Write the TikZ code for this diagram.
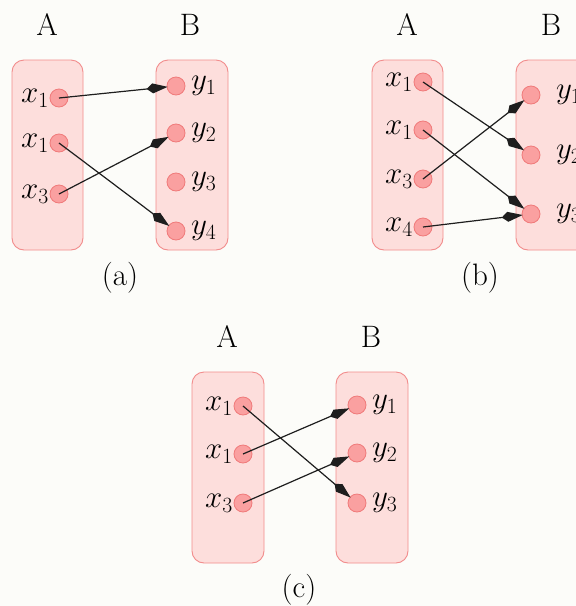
\RequirePackage{fix-cm}
\documentclass[tikz,border=0pt]{standalone}
\usetikzlibrary{arrows.meta}
\definecolor{pagebg}{RGB}{252,252,249}
\definecolor{setfill}{RGB}{253,222,220}
\definecolor{setline}{RGB}{242,140,140}
\definecolor{dotfill}{RGB}{250,160,160}
\definecolor{dotline}{RGB}{240,122,122}
\definecolor{ink}{RGB}{30,30,30}
\tikzset{
  setbox/.style={draw=setline, fill=setfill, line width=0.9pt, rounded corners=12pt},
  elem/.style={circle, draw=dotline, fill=dotfill, line width=0.8pt, minimum size=18pt, inner sep=0pt},
  lab/.style={inner sep=0.5pt},
  ylab/.style={inner sep=0.5pt, right, xshift=5pt},
  setname/.style={inner sep=0pt},
  caption/.style={inner sep=0pt},
  mapto/.style={draw=ink, line width=1.2pt, -{Kite[length=21pt,width=10pt,inset=6pt]}, shorten >=-1pt}
}
\begin{document}
\begin{tikzpicture}[x=1pt,y=-1pt, font=\fontsize{31}{36}\selectfont]
\fill[pagebg] (0,0) rectangle (576,606);
\useasboundingbox (0,0) rectangle (576,606);
\clip (0,0) rectangle (576,606);

% ---------- (a) ----------
\draw[setbox] (12,60) rectangle (83,250);
\draw[setbox] (156,60) rectangle (228,250);
\node[setname] (aA) at (47,25) {A};
\node[setname] (aB) at (190,25) {B};
\node[elem] (ax1) at (59,98) {};
\node[elem] (ax2) at (59,143) {};
\node[elem] (ax3) at (59,194) {};
\node[lab, left] at (ax1.west) {$x_1$};
\node[lab, left] at (ax2.west) {$x_1$};
\node[lab, left] at (ax3.west) {$x_3$};
\node[elem] (ay1) at (176,86) {};
\node[elem] (ay2) at (176,133) {};
\node[elem] (ay3) at (176,182) {};
\node[elem] (ay4) at (176,231) {};
\node[ylab] at (ay1.east) {$y_1$};
\node[ylab] at (ay2.east) {$y_2$};
\node[ylab] at (ay3.east) {$y_3$};
\node[ylab] at (ay4.east) {$y_4$};
\draw[mapto] (ax1.center) -- (ay1);
\draw[mapto] (ax2.center) -- (ay4);
\draw[mapto] (ax3.center) -- (ay2);
\node[caption] (capa) at (120,278) {(a)};

% ---------- (b) ----------
\draw[setbox] (372,60) rectangle (443,250);
\draw[setbox] (516,60) rectangle (588,250);
\node[setname] (bA) at (407,25) {A};
\node[setname] (bB) at (551,25) {B};
\node[elem] (bx1) at (423,82) {};
\node[elem] (bx2) at (423,130) {};
\node[elem] (bx3) at (423,179) {};
\node[elem] (bx4) at (423,227) {};
\node[lab, left] at (bx1.west) {$x_1$};
\node[lab, left] at (bx2.west) {$x_1$};
\node[lab, left] at (bx3.west) {$x_3$};
\node[lab, left] at (bx4.west) {$x_4$};
\node[elem] (by1) at (531,95) {};
\node[elem] (by2) at (531,155) {};
\node[elem] (by3) at (531,214) {};
\node[ylab, xshift=10pt] at (by1.east) {$y_1$};
\node[ylab, xshift=10pt] at (by2.east) {$y_2$};
\node[ylab, xshift=10pt] at (by3.east) {$y_3$};
\draw[mapto] (bx1.center) -- (by2);
\draw[mapto] (bx2.center) -- (by3);
\draw[mapto] (bx3.center) -- (by1);
\draw[mapto] (bx4.center) -- (by3);
\node[caption] (capb) at (480,278) {(b)};

% ---------- (c) ----------
\draw[setbox] (192,372) rectangle (264,563);
\draw[setbox] (336,372) rectangle (408,563);
\node[setname] (cA) at (227,337) {A};
\node[setname] (cB) at (371,337) {B};
\node[elem] (cx1) at (243,406) {};
\node[elem] (cx2) at (243,454) {};
\node[elem] (cx3) at (243,503) {};
\node[lab, left] at (cx1.west) {$x_1$};
\node[lab, left] at (cx2.west) {$x_1$};
\node[lab, left] at (cx3.west) {$x_3$};
\node[elem] (cy1) at (357,405) {};
\node[elem] (cy2) at (357,453) {};
\node[elem] (cy3) at (357,503) {};
\node[ylab] at (cy1.east) {$y_1$};
\node[ylab] at (cy2.east) {$y_2$};
\node[ylab] at (cy3.east) {$y_3$};
\draw[mapto] (cx1.center) -- (cy3);
\draw[mapto] (cx2.center) -- (cy1);
\draw[mapto] (cx3.center) -- (cy2);
\node[caption] (capc) at (299,590) {(c)};
\end{tikzpicture}
\end{document}
